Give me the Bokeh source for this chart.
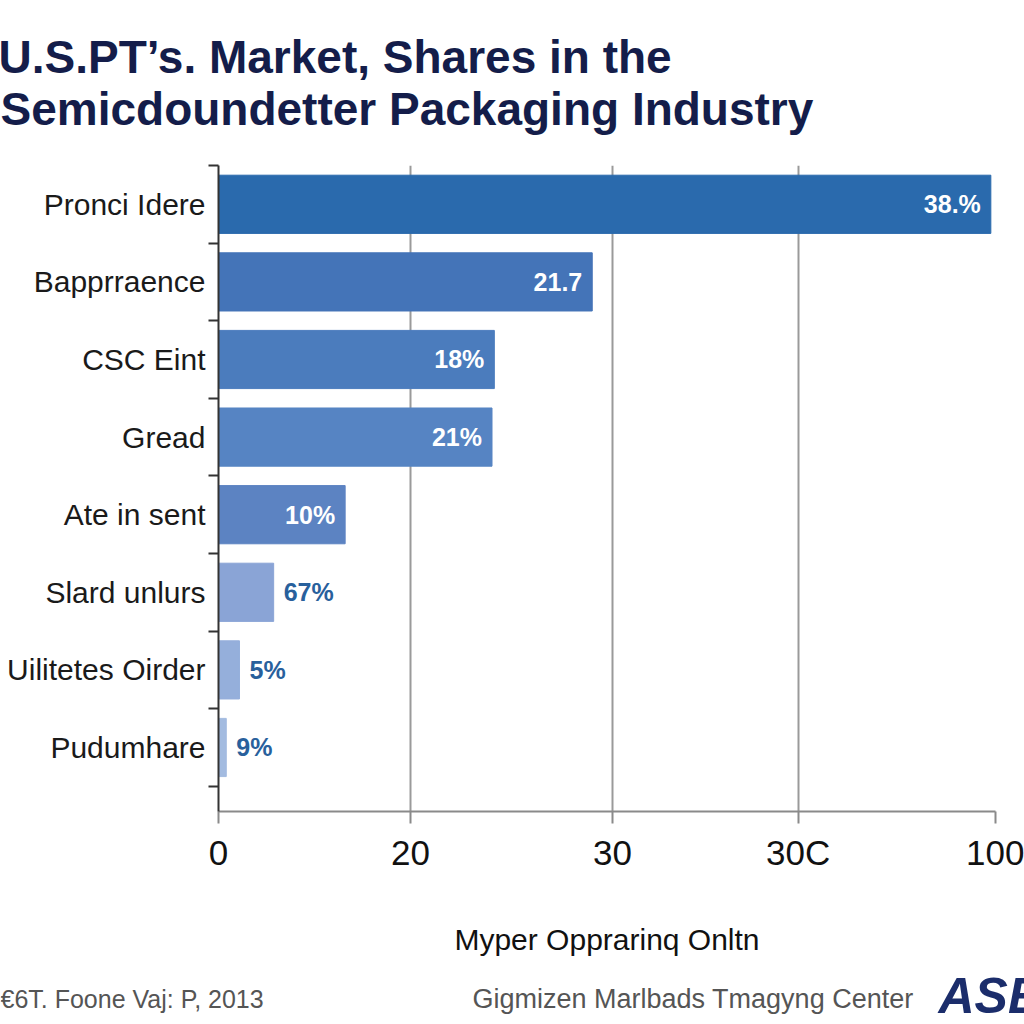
from bokeh.plotting import figure
from bokeh.models import ColumnDataSource, Range1d, FixedTicker, CDSView, IndexFilter
from bokeh.layouts import column
from bokeh.embed import file_html
from bokeh.resources import INLINE
from bokeh.core.properties import value

# ---------------- data ----------------
categories = ["Pronci Idere", "Bapprraence", "CSC Eint", "Gread",
              "Ate in sent", "Slard unlurs", "Uilitetes Oirder", "Pudumhare"]
shares = [99.4, 48.1, 35.5, 35.2, 16.3, 7.1, 2.7, 1.0]
bar_labels = ["38.%", "21.7", "18%", "21%", "10%", "67%", "5%", "9%"]
bar_colors = ["#2a6aad", "#4474b8", "#4b7cbd", "#5684c3", "#5c83c2",
              "#8aa4d6", "#95afdb", "#a3bbe0"]
tick_values = [0, 24.7, 50.7, 74.6, 100]
tick_labels = ["0", "20", "30", "30C", "100"]

title_lines = ["U.S.PT\u2019s. Market, Shares in the",
               "Semicdoundetter Packaging Industry"]
x_title = "Myper Opprarinq Onltn"
source_note = "\u20ac6T. Foone Vaj: P, 2013"
center_note = "Gigmizen Marlbads Tmagyng Center"
logo_text = "ASE"

W = 1024
HEAD_H, MAIN_H, FOOT_H = 155, 813, 56
FONT = "Liberation Sans"


def blank_fig(h):
    f = figure(width=W, height=h, output_backend="svg", toolbar_location=None,
               x_range=Range1d(0, W), y_range=Range1d(h, 0),
               x_axis_type=None, y_axis_type=None, frame_align=False,
               min_border=0, min_border_left=0, min_border_right=0,
               min_border_top=0, min_border_bottom=0)
    f.outline_line_color = None
    f.grid.grid_line_color = None
    f.background_fill_color = "white"
    f.border_fill_color = "white"
    return f


# ---------------- header (title) ----------------
head = blank_fig(HEAD_H)
head.text(x=[-2, 0], y=[56, 108], text=title_lines,
          text_font=value(FONT), text_font_style="bold", text_font_size="46px",
          text_color="#141d4a", text_baseline="alphabetic", text_align="left")

# ---------------- main chart ----------------
n = len(categories)
mid = [i + 0.5 for i in range(n)]
bounds = list(range(n + 1))

p = figure(width=W, height=MAIN_H, output_backend="svg", toolbar_location=None,
           x_range=Range1d(0, 100), y_range=Range1d(n + 0.325, 0),
           frame_align=False,
           min_border_left=218, min_border_right=29,
           min_border_top=10, min_border_bottom=157)
p.outline_line_color = None
p.background_fill_color = "white"
p.border_fill_color = "white"

src = ColumnDataSource(dict(cat=categories, y=mid, v=shares, lab=bar_labels,
                            color=bar_colors))

p.hbar(y="y", left=0, right="v", height=0.75, color="color", source=src)

inside = [i for i, v in enumerate(shares) if v > 10]
outside = [i for i, v in enumerate(shares) if v <= 10]

p.text(x="v", y="y", text="lab", source=src, view=CDSView(filter=IndexFilter(inside)),
       text_align="right", text_baseline="middle", x_offset=-10,
       text_color="white", text_font=value(FONT),
       text_font_style="bold", text_font_size="25px")
p.text(x="v", y="y", text="lab", source=src, view=CDSView(filter=IndexFilter(outside)),
       text_align="left", text_baseline="middle", x_offset=10,
       text_color="#28609c", text_font=value(FONT),
       text_font_style="bold", text_font_size="25px")

# x axis
xa = p.xaxis[0]
xa.ticker = FixedTicker(ticks=tick_values, minor_ticks=[])
xa.major_label_overrides = {t: l for t, l in zip(tick_values, tick_labels)}
xa.axis_line_color = "#8a8a8a"
xa.axis_line_width = 2
xa.major_tick_line_color = "#8a8a8a"
xa.major_tick_line_width = 2
xa.major_tick_out = 12
xa.major_tick_in = 0
xa.minor_tick_line_color = None
xa.major_label_text_font = FONT
xa.major_label_text_font_size = "35px"
xa.major_label_text_color = "#111111"
xa.major_label_standoff = 9
xa.axis_label = x_title
xa.axis_label_text_font = FONT
xa.axis_label_text_font_style = "normal"
xa.axis_label_text_font_size = "30px"
xa.axis_label_text_color = "#111111"
xa.axis_label_standoff = 48

# y axis: labels at category centres, boundary marks as minor ticks
ya = p.yaxis[0]
ya.ticker = FixedTicker(ticks=mid, minor_ticks=bounds)
ya.major_label_overrides = {m: c for m, c in zip(mid, categories)}
ya.major_label_text_font = FONT
ya.major_label_text_font_size = "30px"
ya.major_label_text_color = "#1a1a1a"
ya.major_label_standoff = 3
ya.axis_line_color = "#333333"
ya.axis_line_width = 2
ya.major_tick_line_color = None
ya.major_tick_out = 0
ya.major_tick_in = 0
ya.minor_tick_line_color = "#333333"
ya.minor_tick_line_width = 2
ya.minor_tick_out = 10
ya.minor_tick_in = 0

p.xgrid.ticker = FixedTicker(ticks=tick_values)
p.xgrid.grid_line_color = "#9a9a9a"
p.xgrid.grid_line_width = 2
p.ygrid.grid_line_color = None

# ---------------- footer ----------------
foot = blank_fig(FOOT_H)
foot.text(x=[0], y=[30], text=[source_note],
          text_font=value(FONT), text_font_size="25px", text_color="#555555",
          text_baseline="middle", text_align="left")
foot.text(x=[472], y=[30], text=[center_note],
          text_font=value(FONT), text_font_size="27px", text_color="#555555",
          text_baseline="middle", text_align="left")
foot.text(x=[938], y=[27], text=[logo_text], text_font=value(FONT),
          text_font_style="bold italic", text_font_size="50px",
          text_color="#1b2d6b", text_baseline="middle", text_align="left")

layout = column(head, p, foot, spacing=0)
open("out.html", "w").write(file_html(layout, INLINE))
